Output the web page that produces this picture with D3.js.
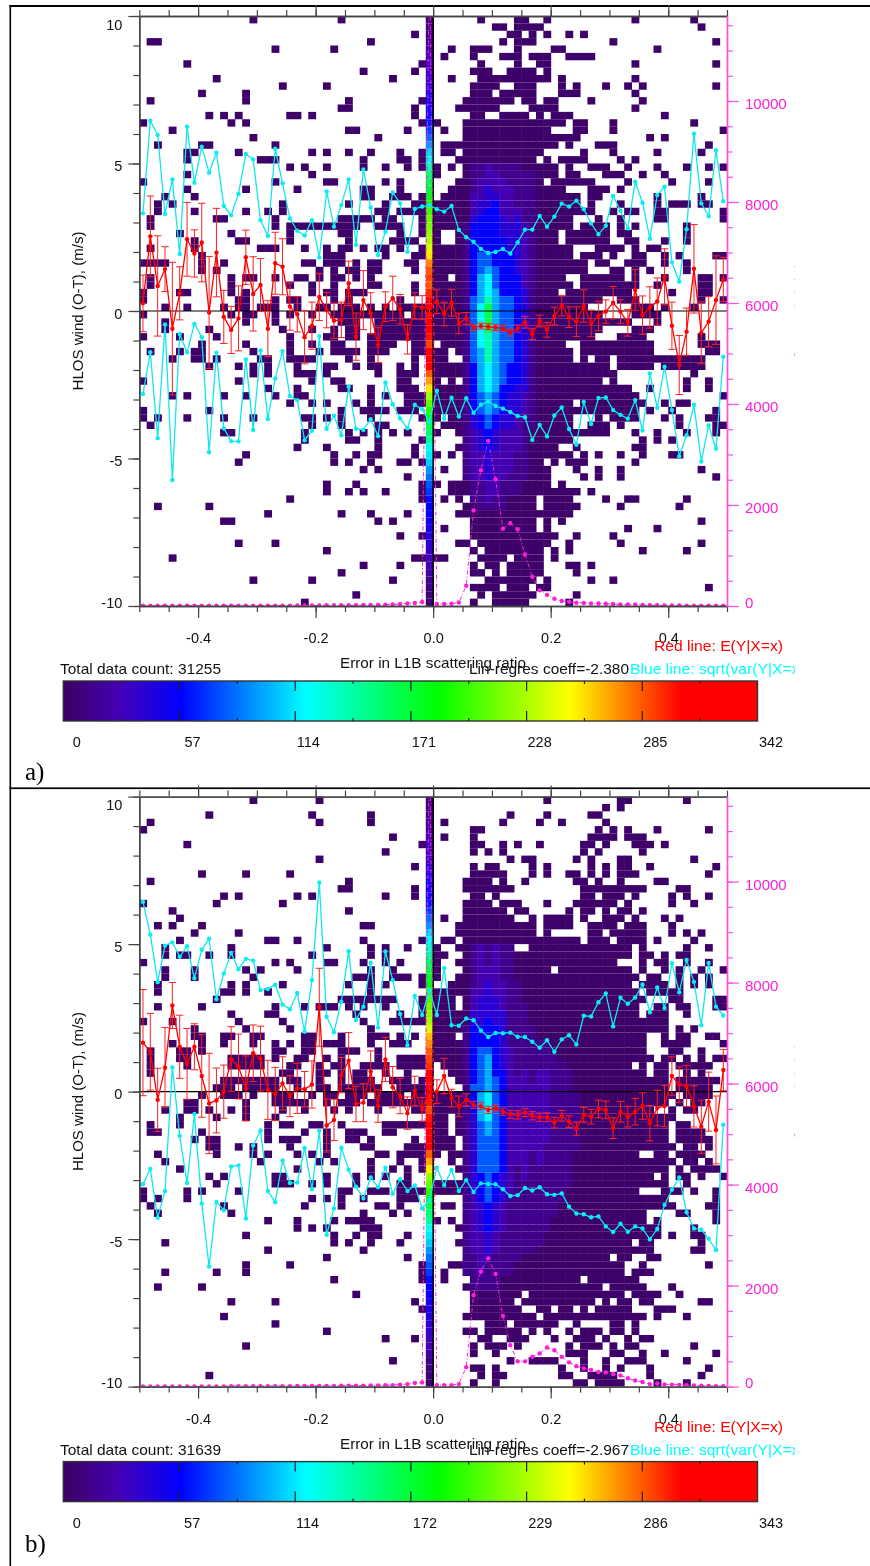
<!DOCTYPE html>
<html>
<head>
<meta charset="utf-8">
<title>HLOS wind vs L1B scattering ratio error</title>
<script src="https://cdn.jsdelivr.net/npm/d3@7"></script>
<style>
  html, body { margin: 0; padding: 0; background: #fff; }
  svg { display: block; filter: blur(0.3px); }
  text { font-family: "Liberation Sans", Arial, sans-serif; }
</style>
</head>
<body>
<div id="chart"></div>
<script>
// counts for the level digits used in coreA / coreB
var levelCounts = [3, 14, 26, 40, 57, 80, 100, 118, 140, 165];

// ---- panel a ----
// occupied cells per row (top row first), columns 0-79, column 39 is in spikeA
var occupiedA = [
  "15 27 46 51-52 55 67 75", "48-49 51-54 76", "37 50-51 53 55 58 60", "1-2 31 49 51-53 64 78",
  "18 26 42 45-47 51 56-57 70", "41 45 49-51 53-55 58-61", "6 38 46 51 54-55 67 78", "30 37 45-47 50-53 55",
  "10 34 42 46-55 57 67", "19 25 45-48 51-53 57 59 63 66 68 78", "8 14 45-47 49-53 57-59 67",
  "1 14 28 38 44-50 52-53 55-56 61 68", "27-28 37 43-48 53-56 67", "9 11 13 20-21 23 37 45-46 49-52 54 56-58 71",
  "0 12 14 38 40 44-57 59-60 64 75", "4 28-29 36 41 44-55 59-60 64 79", "15 32 44-59 69 71",
  "2 8-9 18 41-56 58 62-64 77", "6-7 13 23 25 28 31 35 38 41-42 44-54 60 64 70 76",
  "6 16-18 30 35-36 38 43-53 55 57-60 65 67", "20 22 25 30 33 36 38 40 42 44-56 58 61-63 66 70 74 77 79",
  "6 23 40 44-56 58-59 63-65 68 71", "0 18 25-26 33 35 43-54 56-61 66 72 77", "6 14 21 30-31 35 42-57 61-63 65",
  "3 7 30-31 34-36 38 41-59 61-62 70 76", "2 4 19 28 33 37-38 40-59 61 65 70 72-74 76-77",
  "2 7 14 17 19 32-33 35-38 40-61 64 66-67 70-71 79", "1 10-11 18 27-31 33-34 38 40-58 62 65 70-71 79",
  "1 18 20-29 32-35 38 40-58 60-63 65 67 74", "5 12 20 27-28 35 38 40 43-56 58-63 65-66 74",
  "7 13-14 20 28 34-37 40 43-56 58-63 66-67 71 74", "1 7 16-18 22 25 27-28 30 32-33 35 38 40-58 62-65 67 69-70",
  "8 25-27 33 37-38 40-58 60-62 64 67-68 71 73 78-79", "0-3 8 11 22-23 25-27 29 31-32 36-37 40-60 62-63 66-68 71 74",
  "8 10 24 26 28-29 31-32 37 40-60 64-65 67 69 74", "1 12 14-15 18 21-22 24 26-27 29 31 40-41 43-57 60-65 67 71 76-77 79",
  "1 12 20 23 26 31-32 37 40-58 60-67 70 76-77", "0 5-6 12 14 23 25-26 28-30 37 40-56 58-66 72 76-77",
  "0 13-14 18 20-21 26 28 35 40-62 65-67 76 79", "3 6 11 13-14 16-18 21 24-25 27-29 31 33 35-38 40-60 67-69 71 75",
  "0 12 14-15 18 20 23 26-35 37-38 40-62 67-70", "3 14 18 27-29 32-38 40-66 70",
  "3 9 19 23 26 28-29 32-38 40-62 67-69", "0 5 10 20 25-26 28-29 31-38 40-61 65-68 76",
  "8 14 20 23 26-27 31-34 37-38 41-57 60-69 76-78", "1 5 7-8 15 20 24 26-29 31-33 37-38 40-41 43-58 60-69 77-78",
  "4 7-8 10 16-17 20-23 28 31 37 40-41 44-58 60 62-63 65-76", "9 13 15 17 21 25-26 29 31-32 35 37 40-63 65-69 71-76",
  "15 17 21-23 25 32 35-37 40-64 75", "0 13 23 26-27 35-36 40 42 44-62 64 74 77",
  "17 21 27-28 31 35-37 40-66 69 74 77", "4 6 11 14 18 21-22 31 33 36-38 40-67 79",
  "20 23 25 29 31 36-38 40-58 60-68 71 73-74", "0 9 27 30-33 35-37 40-67 69 72 78",
  "0 2 6 11 15 22-23 25 27 31 38 40 42-58 62 64-67 71 73 77-78", "1 23 27 32-33 41-58 61-63 65 73 78-79",
  "11-12 22 28 30 32 34 36 40 43-63 67 70 74 78", "22 28-29 32 38 44-58 68 70 72",
  "21 25 32 37 43-56 59 67-68", "14 26 29 31-32 37 40 42 44-58 60 62 65 68 72-73",
  "13 26 28 31 35-36 38 44-54 56 58-60 67", "30 32 41 44-55 59 62 65 76", "36 44-55 60 62 65 78",
  "25 29 38 40 42-55 57", "25 28 30 33 38 42-59 61", "20 38 41 43 45-53 55-58 63 66-67 74",
  "2 9 44-53 55-59 65 73", "17 27 31 36 43-58", "11-12 32 34 45-53 55 57 76", "41 45-53 55 66 70",
  "35 38 45-56 59 64", "13 18 43-44 46-55 58 65 76", "25 45 47-54 56 58 68 74", "4 37-38 40-41 46-49 51-54 56",
  "30 35 45 47-48 50-54 58-59 61", "27 45-46 48 50-54 59", "15 23 34 47-53 55 61 64", "45-48 50-52 54-55 77",
  "29 46 48-53 59", "22 45 48-52 58"
];
// denser middle of the histogram, rows 20-66, from column 44
var coreA = [
  "011211110000", "011221111100", "012222111100", "012322211100", "022332211100", "023342211100",
  "023442221100", "034443231100", "144443332100", "144443332100", "144444332100", "144444332100",
  "145544432100", "145544432100", "145654432100", "146754442100", "146754442100", "146764443100",
  "156865543100", "157965543100", "157965543100", "157965543100", "157965543100", "157865543100",
  "157865543100", "156865543100", "156865543100", "146765443100", "146765443100", "146765443100",
  "146764433100", "145654332100", "145654332100", "145654332100", "134543321100", "134543321100",
  "123432221000", "123432221000", "123432221000", "122322211000", "122322211000", "122322211000",
  "122322111000", "011221110000", "011221110000", "011211000000", "001111000000"
];
var spikeA = [
  8, 10, 12, 15, 18, 25, 28, 32, 36, 40,
  48, 52, 57, 60, 65, 75, 85, 95, 112, 125,
  140, 155, 165, 172, 180, 190, 200, 210, 215, 222,
  228, 240, 255, 275, 285, 290, 285, 295, 310, 330,
  320, 342, 330, 300, 290, 330, 342, 335, 285, 270,
  255, 225, 210, 195, 180, 165, 155, 145, 125, 115,
  108, 95, 85, 80, 72, 62, 57, 55, 50, 46,
  42, 38, 35, 30, 26, 22, 16, 12, 8, 5
];
var upperA = [
  3.31, 6.45, 5.97, 3.29, 4.46, 1.93, 6.25, 4.35, 5.57, 4.69,
  5.37, 3.57, 3.25, 3.97, 5.32, 5.14, 3.08, 2.54, 5.5, 4.33,
  3.14, 2.72, 2.56, 3.08, 1.81, 4.05, 2.86, 3.59, 4.46, 2.24,
  4.8, 3.51, 1.9, 2.69, 4.02, 3.65, 2.01, 3.46, 3.54, 3.59,
  3.45, 3.37, 3.56, 2.75, 2.5, 2.35, 2.1, 1.97, 2.0, 2.1,
  1.95, 2.32, 2.76, 2.76, 3.22, 2.86, 3.2, 3.64, 3.54, 3.74,
  3.45, 2.97, 2.6, 2.89, 3.9, 3.4, 2.8, 4.38, 3.67, 2.45,
  3.93, 4.21, 1.65, 1.0, 2.77, 6.01, 3.65, 3.21, 5.45, 3.72
];
var lowerA = [
  -2.81, -1.4, -4.31, -0.46, -5.73, -0.78, -1.4, -0.44, -0.89, -4.79,
  -1.41, -3.98, -4.41, -4.42, -1.64, -4.03, -1.34, -3.66, -2.29, -1.36,
  -2.88, -3.02, -4.38, -4.06, -0.85, -3.99, -3.55, -4.21, -2.57, -3.99,
  -4.03, -3.67, -4.24, -2.42, -3.16, -3.64, -3.98, -3.18, -3.33, -3.75,
  -2.7, -3.65, -2.94, -3.58, -2.96, -3.45, -3.18, -3.07, -3.22, -3.31,
  -3.42, -3.56, -3.6, -4.37, -3.86, -4.25, -3.54, -3.27, -4.0, -4.53,
  -3.08, -3.83, -2.95, -2.93, -3.36, -3.52, -3.65, -3.02, -4.05, -2.12,
  -3.28, -1.89, -3.36, -4.92, -4.21, -3.18, -5.1, -3.88, -4.66, -1.55
];
var meanA = [
  0.26, 2.53, 0.85, 1.42, -0.6, 0.6, 2.43, 1.95, 2.32, -0.05,
  1.98, -0.2, -0.64, -0.25, 1.82, 0.58, 0.88, -0.6, 1.62, 1.5,
  0.15, -0.11, -0.89, -0.5, 0.48, 0.03, -0.33, -0.3, 0.94, -0.87,
  0.37, -0.08, -1.15, 0.15, 0.43, 0.06, -0.96, 0.17, 0.12, 0.15,
  0.32, -0.1, 0.28, -0.42, -0.25, -0.56, -0.51, -0.53, -0.56, -0.59,
  -0.73, -0.59, -0.38, -0.78, -0.34, -0.64, -0.17, 0.18, -0.21, -0.36,
  0.17, -0.42, -0.17, -0.02, 0.28, -0.02, -0.4, 0.71, -0.14, 0.12,
  0.32, 1.16, -0.5, -1.83, -0.7, 1.43, -0.74, -0.36, 0.37, 1.07
];
var errA = [
  0.96, 1.37, 1.7, 0.76, 2.25, 0.9, 1.25, 0.8, 1.33, 1.9,
  1.5, 0.9, 0.8, 1.1, 0.92, 1.26, 0.9, 0.95, 1.05, 0.95,
  0.8, 0.6, 0.9, 0.8, 0.8, 0.6, 0.6, 0.6, 0.75, 0.8,
  1.0, 0.7, 0.6, 0.5, 0.75, 0.5, 0.5, 0.45, 0.4, 0.3,
  0.4, 0.4, 0.45, 0.35, 0.2, 0.1, 0.1, 0.1, 0.1, 0.1,
  0.12, 0.12, 0.2, 0.18, 0.2, 0.25, 0.3, 0.35, 0.35, 0.5,
  0.55, 0.45, 0.5, 0.4, 0.55, 0.4, 0.45, 0.7, 0.65, 0.7,
  0.8, 0.95, 0.8, 1.0, 0.8, 1.5, 1.05, 0.85, 1.5, 0.75
];
var countsA = [
  5, 5, 5, 5, 5, 5, 5, 5, 5, 5,
  5, 5, 5, 5, 5, 5, 5, 5, 5, 5,
  5, 10, 10, 10, 10, 15, 15, 15, 15, 15,
  20, 20, 20, 25, 30, 40, 50, 60, 80, 13000,
  40, 40, 45, 70, 400, 1890, 2690, 3270, 2510, 1530,
  1640, 1520, 1020, 580, 310, 220, 145, 100, 85, 65,
  60, 50, 50, 45, 40, 30, 30, 30, 20, 15,
  15, 10, 10, 10, 5, 5, 5, 5, 5, 5
];
var barLabelsA = [0, 57, 114, 171, 228, 285, 342];
var barMaxA = 342;
var totalA = "Total data count: 31255";
var regresA = "Lin-regres coeff=-2.380";

// ---- panel b ----
var occupiedB = [
  "15 24 55 65-66 74", "63 65", "9 23 31 50 55 61-62", "1 24 31 41 49 54 57 63", "0 45-46 62 64 66 70 77",
  "34 41 45 61-64 66-68", "6 38 45-46 49 51 54 60-61 63 67-69 71", "33 45 47 49 60 62 68",
  "24 50 52-53 59 61 65-66 75", "37 45 47-48 53 55 61 63 65-66 69 78", "8 14 20 45-49 53 55 58-59 61 63 65-67 77",
  "1 28 44-47 49 52 59-60 62 65 70-71", "27-28 37 44-50 60-68 73-74", "11 13 21 23 33 37 45-46 48 60-61 63-65 67 72 74 77",
  "0 10 19 44-47 49-51 55 59-64 66 72 75", "4 28 44-49 51-52 58 60-61 63 65-66 68",
  "5 41 44-50 53 55-58 60 63-65 67 71 73", "2 4 8 30-31 43-53 55-58 61-64 66-68 72",
  "7 13 43-53 55 61-62 64-68 72 74 76", "5 17-18 21 30 38 41-42 44-59 61-63 65-68 70 75",
  "3 12 25 31 33 36 40 43-50 53-66 68 74 77", "3 5-6 9 12 23 31 33 40-41 44-66 68-69 71 73-74",
  "0 18 20 25-26 30 33 35 40 43-64 68 70-71 74 77", "3 7 14 16 21 31 34 40 44-55 57-66 68 71 73 76 79",
  "3 7 15 29-31 34-36 38 40 43-67 69-70 73 75 77", "2 12 14 19 28 31 33 38 42-66 68-71 73 75 77",
  "2 11-12 14 17 31 40-67 69-73", "10 27-34 38 40-42 44-68 72-73 78-79",
  "2 8 18 22 24-26 28 30 33 38 40-42 44-67 70-71 73-74 78-79", "12 17-18 29 35 38 40-67 69-71 74",
  "0 4 13 19 30 34-38 40-71", "7 14 20 31 40-71 73 75",
  "7-8 11-12 15-16 22-23 27 31-33 35 37 40-42 44-68 71 73-74 77-78", "4 8 11 15 18 20 22-23 25-27 31 34-36 40-68 71-74 79",
  "1 5-6 8 18-19 22-23 27-29 32 40-68 72-73 76", "1 5-6 12-16 18 21-22 25 27 32 35-38 40-69 71-72 74 76 78-79",
  "1 6 12-16 20-21 24 26-27 30-33 35-38 41-66 68 70-71 73-77", "1 19-20 24-25 27 29-30 33 36 42-68 70-71 74 76",
  "11-18 20-21 24 27 29-31 34-36 38 43-71 73-78", "10-12 14-18 21 24-25 27-32 35-38 44-71 73-77",
  "8 11-13 15 18-20 23 25-26 28-30 32-35 37-38 40-72 74-77", "6-7 14 18-22 25 27-29 31-38 40-71 73 75-76",
  "3 6-7 9 12 14 19 22 26 28 32 37-38 40-69 72 74-75", "5 10 14 18 40-41 43-72",
  "1 5 17 19-20 23-24 27 33-38 40-41 43-71 73-74", "1-2 8 17 22 25 28-30 33-34 40-41 43-71 73-76",
  "7 9-10 17 19-21 25 28-29 31 37 40-42 44-71 73-77", "9-10 13 15 20 25 30-31 36-38 40-42 44-72 74-75 77",
  "2 10 15 17 21 23 25 32-33 35-38 40 42-67 70-71 73-76", "3 16 24 26 31 35 38 42 44-72 74-75 77",
  "5 21 31 34 36 38 43-71 73 75-78", "9 11 18-19 25 29 31 33 36 44-69 71 73-74 76 79",
  "10 18-20 23 25 29 35-36 40-71 74", "0 6 8 13 27-28 31-33 35-38 40-67 71-73 75 78",
  "0 2 6 23 25 27 30 35-37 44-71 78", "1 11 22 27 32-33 35 41-42 44-72 77-78",
  "2 12 30 34 36 44-68 73-74 78", "17 21 26 28-31 40 42 44-68 70 78", "21 23 25 30-32 43-70 75",
  "14 26 29 31-32 36 44-70 72 75-76", "3 26 28 31 35 43-66 68-69 76", "17 30 44-69 75-76",
  "25 36 44-63 65-66 69-70", "14 20 38 42-65 68 77", "3 10 14 38 41 44-65 67-69", "26 38 41 45-59 61-67",
  "2 8 44-62 64-68 72", "29 45-51 53-65 67-70 73", "12 18 37 45-50 52-61 63 65-66 68-69 76-77",
  "38 45-51 54-55 57-58 60 62-66 70-72", "11 44-53 55-68 70 74", "18 47-49 51-56 59 64-65 67",
  "25 44-45 47-51 53 55 58 60-62 64-65 67", "33 37 46-47 50-52 56 59-61 63 66 68-69",
  "14 45 47-49 51 58 60-62 64 66-67 75", "45 48 58-60 64-65 68 71 78", "34 50 53-56 60 63 66-68 74",
  "45-46 48 57 60 63 65 69 77", "9 46 48-49 57-58 61-64 69 76", "45 48 59-60 62-65 70 74"
];
var coreB = [
  "01212110000000000000", "01212110000000000000", "01212110000000000000", "01222110000000000000",
  "01222110000000000000", "01232211000000000000", "02232211000000000000", "02333211000000000000",
  "02333211100000000000", "03333311100000000000", "03343311100000000000", "14444311110000000000",
  "14444311110000000000", "14444311111100000000", "14554321111100000000", "14564321111110000000",
  "14564321111111000000", "14564421212211100000", "14565422212211100000", "15565422222211100000",
  "14675422222211110000", "14675422222211110000", "14675422222211110000", "13675422222211110000",
  "13565422222211110000", "13565422222211110000", "13555422222211110000", "13555422222111110000",
  "13555422212111100000", "13555422212111100000", "13555421211111100000", "13454321211111100000",
  "13454321111111100000", "13454321111111000000", "12454311111111000000", "12343211111110000000",
  "12343211111110000000", "12343211111100000000", "12343211111100000000", "12232111111000000000",
  "12232111111000000000", "12232111110000000000", "11221111000000000000", "11211110000000000000",
  "11211110000000000000", "01111000000000000000", "01111000000000000000"
];
var spikeB = [
  8, 10, 12, 15, 18, 25, 28, 32, 36, 40,
  48, 52, 57, 60, 65, 75, 85, 95, 112, 122,
  135, 145, 160, 168, 175, 182, 195, 205, 212, 220,
  228, 240, 265, 275, 285, 290, 295, 315, 330, 340,
  325, 300, 290, 300, 320, 335, 343, 335, 285, 270,
  255, 225, 210, 195, 180, 165, 155, 145, 125, 115,
  108, 95, 85, 80, 72, 62, 57, 55, 50, 46,
  42, 38, 35, 30, 26, 22, 16, 12, 8, 5
];
var upperB = [
  6.43, 5.32, 3.71, 4.95, 5.06, 4.57, 4.93, 3.84, 4.81, 5.18,
  3.13, 4.0, 4.7, 4.15, 4.5, 4.44, 3.44, 3.48, 3.62, 2.95,
  2.79, 3.34, 2.03, 3.78, 7.09, 2.54, 2.01, 3.05, 4.76, 2.43,
  2.88, 4.37, 2.17, 4.75, 3.78, 2.63, 1.57, 3.24, 2.6, 3.44,
  2.6, 4.19, 2.25, 2.23, 2.48, 2.42, 2.07, 1.85, 1.99, 1.98,
  2.0, 1.86, 1.85, 1.69, 1.49, 1.74, 1.35, 1.77, 1.91, 1.6,
  2.57, 2.55, 3.03, 3.33, 2.21, 3.18, 2.98, 3.19, 3.63, 2.69,
  3.53, 2.83, 4.35, 3.37, 4.46, 3.72, 2.25, 4.36, 2.88, 2.58
];
var lowerB = [
  -3.14, -2.62, -4.28, -3.37, 0.82, -1.5, -3.1, -0.76, -3.79, -5.93,
  -3.74, -4.02, -2.54, -2.5, -4.3, -1.83, -1.32, -3.37, -3.75, -2.33,
  -3.1, -3.08, -1.91, -3.31, -1.33, -4.85, -3.96, -1.9, -2.65, -3.22,
  -3.62, -2.91, -3.24, -2.58, -3.46, -2.97, -3.37, -3.18, -3.96, -3.67,
  -2.58, -3.17, -2.66, -3.37, -3.0, -3.4, -3.11, -3.13, -3.14, -3.31,
  -3.54, -3.51, -3.27, -3.35, -3.24, -3.48, -3.5, -3.45, -3.9, -4.13,
  -4.16, -4.26, -4.23, -4.57, -4.76, -4.48, -4.75, -4.57, -4.64, -5.01,
  -4.66, -3.84, -3.33, -2.91, -4.09, -4.64, -4.68, -4.99, -5.37, -1.12
];
var meanB = [
  1.66, 1.35, -0.28, 0.81, 2.92, 1.52, 0.94, 1.52, 0.53, -0.4,
  -0.3, 0.0, 1.1, 0.85, 0.11, 1.3, 1.12, 0.06, -0.08, 0.28,
  -0.15, 0.11, 0.08, 0.24, 2.86, -1.15, -0.96, 0.56, 1.05, -0.42,
  -0.37, 0.68, -0.49, 1.09, 0.15, -0.15, -0.73, 0.02, -0.6, 0.0,
  0.0, 0.53, -0.22, -0.5, -0.28, -0.45, -0.5, -0.62, -0.56, -0.68,
  -0.77, -0.79, -0.71, -0.82, -0.87, -0.87, -1.05, -0.82, -1.02, -1.26,
  -0.79, -0.85, -0.59, -0.62, -1.24, -0.68, -0.85, -0.68, -0.49, -1.07,
  -0.56, -0.49, 0.53, 0.24, 0.19, -0.5, -1.19, -0.34, -1.3, 0.73
];
var errB = [
  1.8, 1.3, 1.07, 1.36, 0.78, 1.07, 1.2, 0.78, 1.4, 1.7,
  1.1, 0.9, 1.1, 1.1, 1.1, 0.96, 1.1, 1.0, 0.9, 0.9,
  0.7, 0.85, 0.6, 0.8, 1.32, 0.9, 0.7, 0.6, 0.95, 0.6,
  0.65, 0.7, 0.55, 0.75, 0.7, 0.6, 0.55, 0.5, 0.4, 0.3,
  0.4, 0.6, 0.3, 0.35, 0.2, 0.12, 0.12, 0.12, 0.12, 0.12,
  0.14, 0.14, 0.14, 0.14, 0.14, 0.15, 0.18, 0.18, 0.2, 0.22,
  0.25, 0.25, 0.3, 0.3, 0.35, 0.35, 0.35, 0.45, 0.45, 0.6,
  0.6, 0.7, 0.65, 0.6, 0.7, 0.7, 0.9, 1.0, 1.15, 0.7
];
var countsB = [
  5, 5, 5, 5, 5, 5, 5, 5, 5, 5,
  5, 5, 10, 10, 10, 10, 10, 10, 10, 10,
  10, 15, 15, 15, 15, 15, 15, 20, 20, 20,
  20, 25, 25, 30, 30, 40, 50, 70, 80, 13000,
  30, 30, 30, 50, 385, 1810, 2280, 2540, 2230, 1400,
  820, 500, 500, 590, 655, 775, 720, 590, 480, 405,
  360, 330, 290, 280, 250, 220, 165, 120, 90, 50,
  60, 45, 40, 35, 30, 25, 20, 15, 10, 10
];
var barLabelsB = [0, 57, 114, 172, 229, 286, 343];
var barMaxB = 343;
var totalB = "Total data count: 31639";
var regresB = "Lin-regres coeff=-2.967";

var xTicks = [-0.4, -0.2, 0.0, 0.2, 0.4];
var yTicks = [-10, -5, 0, 5, 10];
var countTicks = [0, 2000, 4000, 6000, 8000, 10000];
var xLabel = "Error in L1B scattering ratio";
var yLabel = "HLOS wind (O-T), (m/s)";
var redNote = "Red line: E(Y|X=x)";
var blueNote = "Blue line: sqrt(var(Y|X=x))";

var nBins = 80;
var width = 870, height = 1566;
var magenta = "#ff1fd8";

var colorStops = [[0, "#3d0060"], [0.083, "#4400b8"], [0.17, "#0000ff"], [0.35, "#00ffff"], [0.54, "#00ff00"], [0.73, "#ffff00"], [0.89, "#ff0000"], [1, "#ff0000"]];

var svg = d3.select("#chart").append("svg")
  .attr("width", width)
  .attr("height", height);

svg.append("rect").attr("width", width).attr("height", height).attr("fill", "#fff");

var defs = svg.append("defs");
var grad = defs.append("linearGradient").attr("id", "rainbow");
grad.selectAll("stop").data(colorStops).enter().append("stop")
  .attr("offset", function(d) { return d[0]; })
  .attr("stop-color", function(d) { return d[1]; });

function parseRow(s) {
  var cols = [];
  s.split(" ").forEach(function(part) {
    if (!part) return;
    var ends = part.split("-").map(Number);
    for (var c = ends[0]; c <= ends[ends.length - 1]; c++) cols.push(c);
  });
  return cols;
}

// table frame lines
svg.append("rect").attr("x", 9.5).attr("y", 5).attr("width", 861).attr("height", 2).attr("fill", "#000");
svg.append("rect").attr("x", 9.5).attr("y", 787.4).attr("width", 861).attr("height", 1.7).attr("fill", "#000");
svg.append("rect").attr("x", 9.5).attr("y", 5).attr("width", 1.6).attr("height", 1561).attr("fill", "#000");

function drawPanel(id, dy, p) {
  var top = 16 + dy, bottom = 606 + dy, left = 139.3, right = 727;
  var g = svg.append("g");

  var x = d3.scaleLinear().domain([-0.5, 0.5]).range([left, right]);
  var y = d3.scaleLinear().domain([-10, 10]).range([bottom, top]);
  var yCount = d3.scaleLinear().domain([0, 11683]).range([bottom, top]);
  var binX = d3.scaleLinear().domain([0, nBins]).range([left, right]);
  var binY = d3.scaleLinear().domain([0, nBins]).range([top, bottom]);
  var barX = d3.scaleLinear().domain([0, p.barMax]).range([63.3, 757.5]);
  var color = d3.scaleLinear()
    .domain(colorStops.map(function(d) { return d[0] * p.barMax; }))
    .range(colorStops.map(function(d) { return d[1]; }));

  var clip = defs.append("clipPath").attr("id", "plot" + id);
  clip.append("rect").attr("x", left).attr("y", top).attr("width", right - left).attr("height", bottom - top);
  var clipText = defs.append("clipPath").attr("id", "note" + id);
  clipText.append("rect").attr("x", 600).attr("y", 640 + dy).attr("width", 195).attr("height", 50);

  // histogram cells
  var cells = [];
  p.occupied.forEach(function(row, r) {
    var core = p.core[r - 20];
    parseRow(row).forEach(function(c) {
      var level = 0;
      if (core && c >= 44 && c - 44 < core.length) level = +core[c - 44];
      cells.push({ c: c, r: r, v: levelCounts[level] });
    });
  });
  p.spike.forEach(function(v, r) { cells.push({ c: 39, r: r, v: v }); });

  g.append("g").selectAll("rect").data(cells).enter().append("rect")
    .attr("x", function(d) { return binX(d.c); })
    .attr("y", function(d) { return binY(d.r); })
    .attr("width", binX(1) - binX(0) + 0.5)
    .attr("height", binY(1) - binY(0))
    .attr("fill", function(d) { return color(d.v); });

  // zero lines
  g.append("line").attr("x1", left).attr("x2", right).attr("y1", y(0)).attr("y2", y(0)).attr("stroke", "#000").attr("stroke-width", 1.2);
  g.append("line").attr("x1", x(0)).attr("x2", x(0)).attr("y1", top).attr("y2", bottom).attr("stroke", "#000").attr("stroke-width", 1.5);

  var centerX = function(i) { return binX(i + 0.5); };
  var plot = g.append("g").attr("clip-path", "url(#plot" + id + ")");

  // column count, right axis
  var countLine = d3.line().x(function(d, i) { return centerX(i); }).y(function(d) { return yCount(d); });
  plot.append("path").attr("d", countLine(p.counts)).attr("fill", "none")
    .attr("stroke", magenta).attr("stroke-width", 1).attr("stroke-dasharray", "4,2,1,2");
  plot.append("g").selectAll("circle").data(p.counts).enter().append("circle")
    .attr("cx", function(d, i) { return centerX(i); })
    .attr("cy", function(d) { return yCount(d); })
    .attr("r", 2.2).attr("fill", magenta);

  // mean with error bars
  var errG = plot.append("g").attr("stroke", "#ff2020").attr("stroke-width", 1);
  p.mean.forEach(function(m, i) {
    var e = p.err[i], cx = centerX(i);
    errG.append("line").attr("x1", cx).attr("x2", cx).attr("y1", y(m + e)).attr("y2", y(m - e));
    errG.append("line").attr("x1", cx - 3.7).attr("x2", cx + 3.7).attr("y1", y(m + e)).attr("y2", y(m + e));
    errG.append("line").attr("x1", cx - 3.7).attr("x2", cx + 3.7).attr("y1", y(m - e)).attr("y2", y(m - e));
  });
  var valueLine = d3.line().x(function(d, i) { return centerX(i); }).y(function(d) { return y(d); });
  plot.append("path").attr("d", valueLine(p.mean)).attr("fill", "none").attr("stroke", "#ff0000").attr("stroke-width", 1.3);
  plot.append("g").selectAll("circle").data(p.mean).enter().append("circle")
    .attr("cx", function(d, i) { return centerX(i); })
    .attr("cy", function(d) { return y(d); })
    .attr("r", 2.2).attr("fill", "#ff0000");

  // spread lines
  [p.upper, p.lower].forEach(function(series) {
    plot.append("path").attr("d", valueLine(series)).attr("fill", "none").attr("stroke", "#10e8ee").attr("stroke-width", 1.3);
    plot.append("g").selectAll("circle").data(series).enter().append("circle")
      .attr("cx", function(d, i) { return centerX(i); })
      .attr("cy", function(d) { return y(d); })
      .attr("r", 2.2).attr("fill", "#08eef4");
  });

  // axes
  function styleAxis(sel, col) {
    sel.selectAll("path").attr("stroke", col).attr("stroke-width", 1.4);
    sel.selectAll("line").attr("stroke", col).attr("stroke-width", 1.2);
    sel.selectAll("text").attr("fill", col).style("font-family", '"Liberation Sans", Arial, sans-serif');
  }
  var axisGray = "#444";

  var bottomMinor = g.append("g").attr("transform", "translate(0," + bottom + ")")
    .call(d3.axisBottom(x).tickValues(d3.range(-10, 11).map(function(d) { return d * 0.05; })).tickSize(6).tickSizeOuter(0).tickFormat(""));
  styleAxis(bottomMinor, axisGray);
  var bottomMajor = g.append("g").attr("transform", "translate(0," + bottom + ")")
    .call(d3.axisBottom(x).tickValues(xTicks).tickSize(12).tickSizeOuter(0).tickPadding(15).tickFormat(d3.format(".1f")));
  styleAxis(bottomMajor, axisGray);
  bottomMajor.selectAll("text").attr("font-size", 14.5).attr("fill", "#111").text(function(d) { return d3.format(".1f")(d).replace("−", "-"); });

  var topMinor = g.append("g").attr("transform", "translate(0," + top + ")")
    .call(d3.axisTop(x).tickValues(d3.range(-10, 11).map(function(d) { return d * 0.05; })).tickSize(6).tickSizeOuter(0).tickFormat(""));
  styleAxis(topMinor, axisGray);
  var topMajor = g.append("g").attr("transform", "translate(0," + top + ")")
    .call(d3.axisTop(x).tickValues(xTicks).tickSize(11).tickSizeOuter(0).tickFormat(""));
  styleAxis(topMajor, axisGray);

  var leftMinor = g.append("g").attr("transform", "translate(" + left + ",0)")
    .call(d3.axisLeft(y).tickValues(d3.range(-10, 11)).tickSize(6).tickSizeOuter(0).tickFormat(""));
  styleAxis(leftMinor, axisGray);
  var leftMajor = g.append("g").attr("transform", "translate(" + left + ",0)")
    .call(d3.axisLeft(y).tickValues(yTicks).tickSize(11).tickSizeOuter(0).tickPadding(6));
  styleAxis(leftMajor, axisGray);
  leftMajor.selectAll("text").attr("font-size", 14.5).attr("fill", "#111")
    .text(function(d) { return String(d); })
    .attr("dy", function(d) { return d === 10 ? 13 : d === -10 ? 1 : 7; });

  var rightMinor = g.append("g").attr("transform", "translate(" + right + ",0)")
    .call(d3.axisRight(yCount).tickValues(d3.range(0, 11501, 500)).tickSize(6).tickSizeOuter(0).tickFormat(""));
  styleAxis(rightMinor, "#ff50e0");
  var rightMajor = g.append("g").attr("transform", "translate(" + right + ",0)")
    .call(d3.axisRight(yCount).tickValues(countTicks).tickSize(12).tickSizeOuter(0).tickPadding(6).tickFormat(d3.format("d")));
  styleAxis(rightMajor, "#ff50e0");
  rightMajor.selectAll("text").attr("font-size", 15).attr("fill", magenta)
    .attr("dy", function(d) { return d === 0 ? 1 : 7.5; });

  // clipped remains of the side label
  g.append("line").attr("x1", 794.5).attr("x2", 794.5).attr("y1", 266 + dy).attr("y2", 316 + dy)
    .attr("stroke", magenta).attr("stroke-width", 0.8).attr("stroke-dasharray", "1,12").attr("opacity", 0.6);
  g.append("line").attr("x1", 794.5).attr("x2", 794.5).attr("y1", 353 + dy).attr("y2", 356 + dy)
    .attr("stroke", magenta).attr("stroke-width", 0.8).attr("opacity", 0.6);

  // texts
  var noteSize = 14.5;
  g.append("text").attr("transform", "translate(83," + (311 + dy) + ") rotate(-90)")
    .attr("text-anchor", "middle").attr("font-size", noteSize).attr("fill", "#111")
    .attr("textLength", 159).attr("lengthAdjust", "spacingAndGlyphs").text(yLabel);
  g.append("text").attr("x", 60).attr("y", 674 + dy).attr("font-size", noteSize).attr("fill", "#111")
    .attr("textLength", 161).attr("lengthAdjust", "spacingAndGlyphs").text(p.total);
  g.append("text").attr("x", 340).attr("y", 668 + dy).attr("font-size", noteSize).attr("fill", "#111")
    .attr("textLength", 186).attr("lengthAdjust", "spacingAndGlyphs").text(xLabel);
  g.append("text").attr("x", 469).attr("y", 674 + dy).attr("font-size", noteSize).attr("fill", "#111")
    .attr("textLength", 160).attr("lengthAdjust", "spacingAndGlyphs").text(p.regres);
  g.append("text").attr("x", 654).attr("y", 651 + dy).attr("font-size", noteSize).attr("fill", "#ff0000")
    .attr("textLength", 129).attr("lengthAdjust", "spacingAndGlyphs").text(redNote);
  g.append("text").attr("x", 630).attr("y", 674 + dy).attr("font-size", noteSize).attr("fill", "#00ffff")
    .attr("clip-path", "url(#note" + id + ")")
    .attr("textLength", 180).attr("lengthAdjust", "spacingAndGlyphs").text(blueNote);

  // colour bar
  var barTop = 681 + dy, barHeight = 40;
  g.append("rect").attr("x", barX(0)).attr("y", barTop).attr("width", barX(p.barMax) - barX(0)).attr("height", barHeight)
    .attr("fill", "url(#rainbow)").attr("stroke", "#333").attr("stroke-width", 1.4);
  var barAxis = d3.scaleLinear().domain([0, 12]).range([barX(0), barX(p.barMax)]);
  [["axisTop", barTop], ["axisBottom", barTop + barHeight]].forEach(function(b) {
    var small = g.append("g").attr("transform", "translate(0," + b[1] + ")")
      .call(d3[b[0]](barAxis).tickValues(d3.range(1, 12, 2)).tickSize(-3).tickSizeOuter(0).tickFormat(""));
    var big = g.append("g").attr("transform", "translate(0," + b[1] + ")")
      .call(d3[b[0]](barAxis).tickValues(d3.range(2, 12, 2)).tickSize(-10).tickSizeOuter(0).tickFormat(""));
    styleAxis(small, "#222");
    styleAxis(big, "#222");
    small.select("path").remove();
    big.select("path").remove();
  });
  var barLabels = g.append("g").attr("transform", "translate(13," + (barTop + barHeight) + ")")
    .call(d3.axisBottom(barX).tickValues(p.barLabels).tickSize(0).tickPadding(16).tickFormat(d3.format("d")));
  barLabels.select("path").remove();
  barLabels.selectAll("text").attr("font-size", 14.5).attr("fill", "#111").style("font-family", '"Liberation Sans", Arial, sans-serif');

  // panel letter
  svg.append("text").attr("x", 25).attr("y", id === "b" ? 1552 : 780)
    .style("font-family", '"Liberation Serif", "Times New Roman", serif')
    .attr("font-size", 25).attr("fill", "#000").text(id + ")");
}

drawPanel("a", 0, {
  occupied: occupiedA, core: coreA, spike: spikeA, upper: upperA, lower: lowerA,
  mean: meanA, err: errA, counts: countsA, barLabels: barLabelsA, barMax: barMaxA,
  total: totalA, regres: regresA
});
drawPanel("b", 780.6, {
  occupied: occupiedB, core: coreB, spike: spikeB, upper: upperB, lower: lowerB,
  mean: meanB, err: errB, counts: countsB, barLabels: barLabelsB, barMax: barMaxB,
  total: totalB, regres: regresB
});
</script>
</body>
</html>
